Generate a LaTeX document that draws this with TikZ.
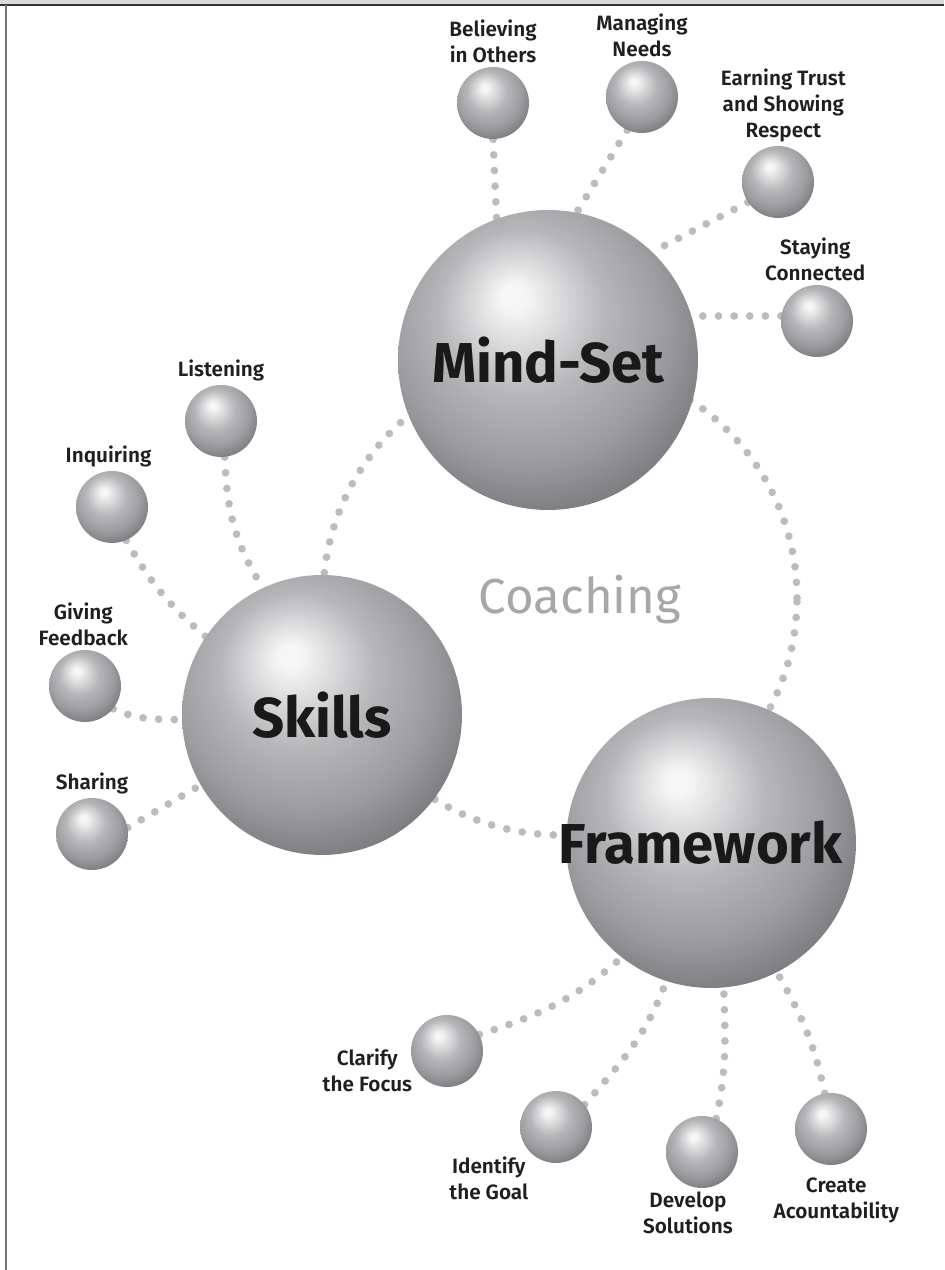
\documentclass[tikz,border=0pt]{standalone}
\usepackage{fontspec}
\setmainfont{Fira Sans}[BoldFont={Fira Sans SemiBold}]
\newfontfamily\heavyfont{Fira Sans Bold}
\usetikzlibrary{positioning,backgrounds}

\definecolor{dotgray}{RGB}{188,188,192}
\definecolor{coachgray}{RGB}{166,167,170}
\definecolor{sphhi}{RGB}{246,246,246}
\definecolor{sphA}{RGB}{214,214,216}
\definecolor{sphB}{RGB}{182,182,185}
\definecolor{sphC}{RGB}{156,156,160}
\definecolor{sphD}{RGB}{120,121,125}
\definecolor{sphE}{RGB}{92,93,98}

\pgfdeclareradialshading{sphere}{\pgfpoint{-6bp}{11bp}}{%
  color(0bp)=(sphhi); color(2bp)=(sphhi); color(8bp)=(sphA);
  color(14bp)=(sphB); color(23bp)=(sphC); color(31bp)=(sphD);
  color(37bp)=(sphE); color(50bp)=(sphE)}

\begin{document}
\begin{tikzpicture}[x=0.02cm,y=0.02cm,
  sphere/.style={circle,shading=sphere,inner sep=0pt,minimum size=1.44cm},
  bigtext/.style={font=\heavyfont\fontsize{32}{34}\selectfont,text=black!90},
  big/.style={sphere,bigtext},
  lbl/.style={font=\bfseries\fontsize{11.8}{14.8}\selectfont,text=black!88,
    align=center,inner sep=1pt},
  dots/.style={draw=dotgray,line width=4.4pt,line cap=round,
    dash pattern=on 0pt off 8.9pt}]
  \useasboundingbox (0,0) rectangle (944,1270);
  % frame
  \fill[black!15] (0,1265) rectangle (944,1270);
  \draw[black!80,line width=0.8pt] (0,1265) -- (944,1265);
  \draw[black!55,line width=1.1pt] (5.7,0) -- (5.7,1265);

  % the three big spheres
  \node[big,minimum size=6cm]   (mindset) at (548,910) {Mind-Set};
  \node[big,minimum size=5.6cm] (skills)  at (322,555) {Skills};
  \node[big,minimum size=5.8cm] (frame)   at (711,427) {};
  \node[bigtext] (frametext) at ([xshift=-6pt]frame.center) {Framework};
  \coordinate (ring) at (560,672);
  \node[font=\fontsize{28}{30}\selectfont,text=coachgray] (coach) at (580,670) {Coaching};

  % mind-set
  \node[sphere] (believe) at (493,1167) {};
  \node[sphere] (manage)  at (642,1173) {};
  \node[sphere] (earn)    at (778,1088) {};
  \node[sphere] (stay)    at (817,949)  {};
  \node[lbl,above=1pt of believe] {Believing\\in Others};
  \node[lbl,above=1pt of manage]  {Managing\\Needs};
  \node[lbl,above=1pt of earn,xshift=3pt] {Earning Trust\\and Showing\\Respect};
  \node[lbl,above=1pt of stay,xshift=-1pt] {Staying\\Connected};

  % skills
  \node[sphere] (listen)   at (221,849) {};
  \node[sphere] (inquire)  at (112,763) {};
  \node[sphere] (feedback) at (85,584)  {};
  \node[sphere] (share)    at (92,436)  {};
  \node[lbl,above=1pt of listen]   {Listening};
  \node[lbl,above=1pt of inquire,xshift=-2pt]  {Inquiring};
  \node[lbl,above=1pt of feedback,xshift=-1pt] {Giving\\Feedback};
  \node[lbl,above=1pt of share]    {Sharing};

  % framework
  \node[sphere] (clarify) at (447,219) {};
  \node[sphere] (goal)    at (556,143) {};
  \node[sphere] (develop) at (702,118) {};
  \node[sphere] (account) at (831,141) {};
  \node[lbl,left=-2pt of clarify,yshift=-11pt]  {Clarify\\the Focus};
  \node[lbl,below left=1pt and 0pt of goal]     {Identify\\the Goal};
  \node[lbl,below=1pt of develop,xshift=-8pt]   {Develop\\Solutions};
  \node[lbl,below=6pt of account,xshift=3pt]    {Create\\Acountability};

  \begin{scope}[on background layer]
    \draw[dots] (ring) circle[radius=237];
    \draw[dots] (believe.-90) -- (mindset.110);
    \draw[dots] (manage.246) -- (mindset.79);
    \draw[dots] (earn.214) -- (mindset.46);
    \draw[dots] (stay.172) -- (mindset.17);
    \draw[dots] (listen.-84) to[out=-88,in=122] (skills.115);
    \draw[dots] (inquire.-67) to[out=-60,in=140] (skills.146);
    \draw[dots] (feedback.-39) to[out=-25,in=178] (skills.182);
    \draw[dots] (share.10) -- (skills.210);
    \draw[dots] (clarify.27) to[out=18,in=222] (frame.232);
    \draw[dots] (goal.38) to[out=49,in=250] (frame.252);
    \draw[dots] (develop.67) to[out=78,in=-88] (frame.275);
    \draw[dots] (account.100) to[out=102,in=-60] (frame.297);
  \end{scope}
\end{tikzpicture}
\end{document}
